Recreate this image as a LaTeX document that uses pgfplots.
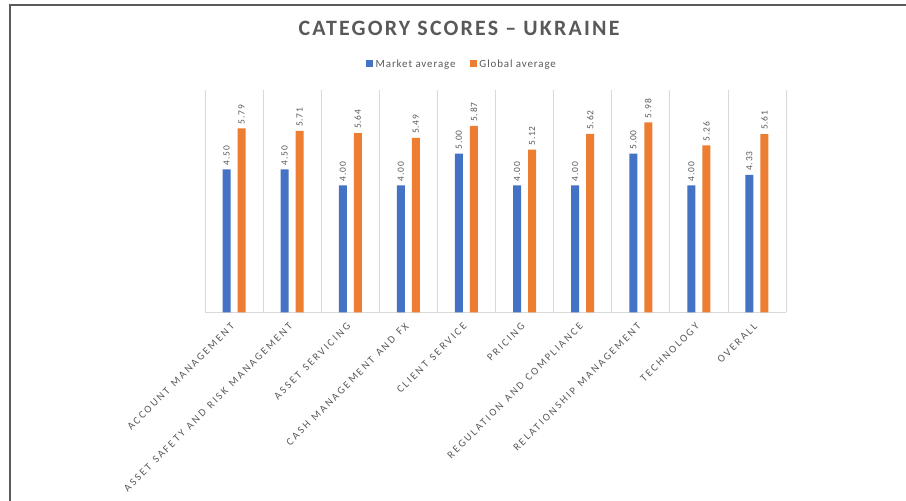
\documentclass[border=0pt]{standalone}
\usepackage{pgfplots}
\pgfplotsset{compat=1.18}
\usepackage{fontspec}
\setmainfont{Carlito}
\newfontfamily\titlefont[LetterSpace=10]{Carlito}
\newfontfamily\tickfont[LetterSpace=20,WordSpace=1.3]{Carlito}
\newfontfamily\valfont[LetterSpace=8]{Carlito}
\definecolor{mktblue}{HTML}{4472C4}
\definecolor{globorange}{HTML}{ED7D31}
\definecolor{gridgray}{HTML}{D9D9D9}
\definecolor{txtgray}{HTML}{595959}
\definecolor{framegray}{HTML}{5A5A5A}

\begin{document}
\begin{tikzpicture}
\path[use as bounding box] (0bp,0bp) rectangle (906bp,-501bp);
\draw[framegray, line width=2bp] (10bp,-501bp) -- (10bp,-5bp) -- (906bp,-5bp);
\node[text=txtgray, font=\titlefont\bfseries\fontsize{22}{26}\selectfont] at (459bp,-28bp) {CATEGORY SCORES – UKRAINE};
\begin{axis}[
  at={(205bp,-312.3bp)}, anchor=south west,
  width=581bp, height=222.3bp, scale only axis,
  xmin=-0.5, xmax=9.5, ymin=0, ymax=7,
  ybar=7bp, bar width=8bp,
  xtick={0,...,9},
  xticklabels={ACCOUNT MANAGEMENT, ASSET SAFETY AND RISK MANAGEMENT, ASSET SERVICING, CASH MANAGEMENT AND FX, CLIENT SERVICE, PRICING, REGULATION AND COMPLIANCE, RELATIONSHIP MANAGEMENT, TECHNOLOGY, OVERALL},
  minor xtick={-0.5,0.5,...,9.5}, xminorgrids,
  minor grid style={gridgray, line width=0.8bp},
  major tick length=0, minor tick length=0,
  ytick=\empty,
  axis x line*=bottom, axis y line=none,
  x axis line style={gridgray, -, line width=0.8bp},
  xticklabel shift=11bp,
  xticklabel style={rotate=45, anchor=east, font=\tickfont\fontsize{10.6}{12}\selectfont, text=txtgray, inner sep=2bp},
  nodes near coords={\pgfmathprintnumber[fixed,fixed zerofill,precision=2]{\pgfplotspointmeta}},
  nodes near coords style={rotate=90, anchor=west, font=\valfont\fontsize{9.5}{11}\selectfont, text=txtgray, inner sep=4bp},
  /pgf/number format/assume math mode=true,
  legend columns=2,
  legend style={at={(0.442,1.117)}, anchor=center, draw=none, fill=none,
    font=\valfont\fontsize{11}{13}\selectfont, text=txtgray,
    /tikz/every odd column/.append style={column sep=1bp},
    /tikz/every even column/.append style={column sep=12bp}},
  legend image code/.code={\fill[#1] (0bp,-3.5bp) rectangle (7bp,3.5bp);},
  clip=false,
]
\addplot[fill=mktblue, draw=none] coordinates {(0,4.50) (1,4.50) (2,4.00) (3,4.00) (4,5.00) (5,4.00) (6,4.00) (7,5.00) (8,4.00) (9,4.33)};
\addplot[fill=globorange, draw=none] coordinates {(0,5.79) (1,5.71) (2,5.64) (3,5.49) (4,5.87) (5,5.12) (6,5.62) (7,5.98) (8,5.26) (9,5.61)};
\legend{Market average, Global average}
\end{axis}
\end{tikzpicture}
\end{document}
